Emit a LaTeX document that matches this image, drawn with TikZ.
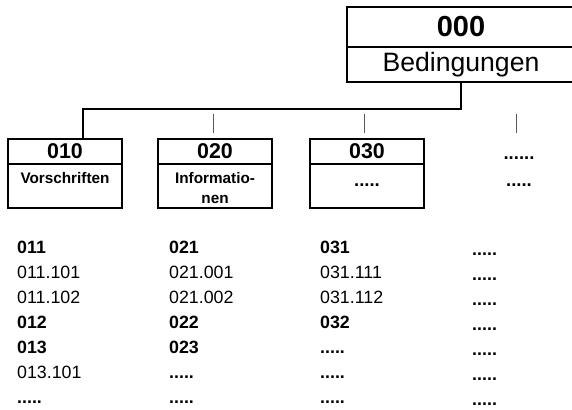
\documentclass[tikz,border=0pt]{standalone}
\usepackage{fontspec}
\setmainfont{Liberation Sans}
\newcommand\fivedots{.....}
\tikzset{
  headbox/.style={draw,line width=2.3pt,inner sep=0pt,minimum width=114pt,minimum height=25pt,font=\fontsize{21.4}{22}\selectfont\bfseries},
  bodybox/.style={draw,line width=2.3pt,inner sep=0pt,minimum width=114pt,minimum height=44pt},
  subtxt/.style={inner sep=0pt,anchor=base,font=\fontsize{15.3}{16}\selectfont\bfseries},
  itemr/.style={inner sep=0pt,anchor=base west,font=\fontsize{17.8}{18}\selectfont},
  itemb/.style={inner sep=0pt,anchor=base west,font=\fontsize{17.8}{18}\selectfont\bfseries},
  dotsb/.style={inner sep=0pt,anchor=base,font=\fontsize{18.5}{19}\selectfont\bfseries},
  conn/.style={line width=2.3pt},
  tick/.style={black!65,line width=1pt}
}

\begin{document}
\begin{tikzpicture}[x=1pt,y=-1pt]
\useasboundingbox (0,0) rectangle (572,409);
      \node[headbox,minimum width=228pt,minimum height=40pt,font=\fontsize{29}{30}\selectfont\bfseries] (h000) at (461,27) {000};
      \node[bodybox,minimum width=228pt,minimum height=35pt,font=\fontsize{26.6}{27}\selectfont] (b000) at (461,64.5) {Bedingungen};

\foreach \n/\x in {010/65,020/215,030/367} {
  \node[headbox] (h\n) at (\x,151.5) {\n};
  \node[bodybox] (b\n) at (\x,186) {};
}
      \node[subtxt] (v010) at (65,183) {Vorschriften};
      \node[subtxt] (i020) at (215,183) {Informatio-};
      \node[subtxt] (n020) at (215,203) {nen};
      \node[dotsb] (d030) at (367,186) {.....};
      \node[dotsb] (h040) at (519,159) {......};
      \node[dotsb] (d040) at (519,186) {.....};

      \coordinate (j) at (83,109);
      \draw[conn] (b000.south) |- (j) -- (j |- h010.north);
\foreach \t/\x in {020/213,030/364,040/516} {
  \coordinate (t\t) at (\x,114);
  \draw[tick] (t\t) -- ++(0,19);
}

\foreach \s/\t [count=\i from 0] in {b/011,r/011.101,r/011.102,b/012,b/013,r/013.101,b/\fivedots}
  \node[item\s] (a\i) at (17,253+25*\i) {\t};
\foreach \s/\t [count=\i from 0] in {b/021,r/021.001,r/021.002,b/022,b/023,b/\fivedots,b/\fivedots}
  \node[item\s] (b\i) at (169,253+25*\i) {\t};
\foreach \s/\t [count=\i from 0] in {b/031,r/031.111,r/031.112,b/032,b/\fivedots,b/\fivedots,b/\fivedots}
  \node[item\s] (c\i) at (320,253+25*\i) {\t};
\foreach \i in {0,...,6}
  \node[itemb] (d\i) at (472,255+25*\i) {\fivedots};
\end{tikzpicture}
\end{document}
